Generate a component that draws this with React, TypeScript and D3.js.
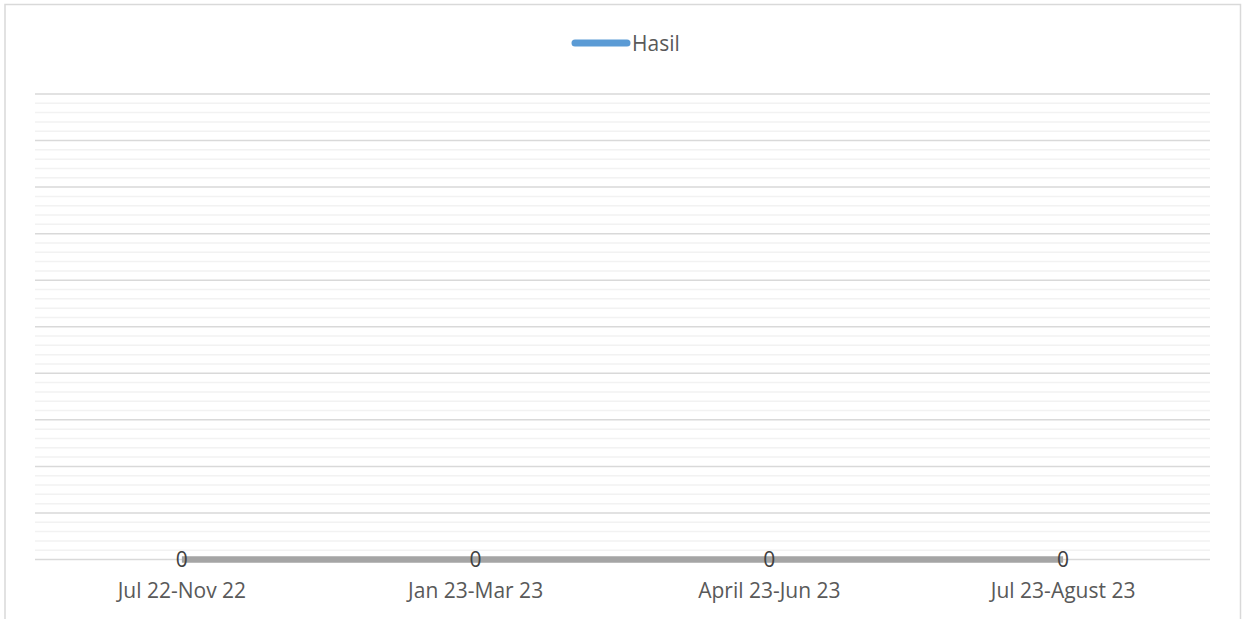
import React from "react";
import * as d3 from "d3";

const categories: string[] = ["Jul 22-Nov 22", "Jan 23-Mar 23", "April 23-Jun 23", "Jul 23-Agust 23"];
const hasilValues: number[] = [0, 0, 0, 0];
const seriesName = "Hasil";
const yMax = 1;
const majorStep = 0.1;
const minorStep = 0.02;

const W = 1246;
const H = 619;
const FONT = "'Open Sans', sans-serif";

export default function App() {
  const left = 35, right = 1210, top = 94, bottom = 559.5;
  const x = d3.scaleBand<string>().domain(categories).range([left, right]).padding(0);
  const y = d3.scaleLinear().domain([0, yMax]).range([bottom, top]);
  const majors = d3.range(0, yMax + 1e-9, majorStep);
  const minors = d3.range(0, yMax + 1e-9, minorStep).filter(
    (v) => Math.abs(v / majorStep - Math.round(v / majorStep)) > 1e-6
  );
  const line = d3
    .line<number>()
    .x((_, i) => (x(categories[i]) as number) + x.bandwidth() / 2)
    .y((d) => y(d));

  return (
    <svg width={W} height={H} style={{ position: "absolute", left: 0, top: 0 }}>
      <rect x={0} y={0} width={W} height={H} fill="#fff" />
      <path d={`M5,${H} V4.5 H1240.5 V${H}`} fill="none" stroke="#d9d9d9" strokeWidth={1.5} />
      {minors.map((v, i) => (
        <line key={"mn" + i} x1={left} x2={right} y1={y(v)} y2={y(v)} stroke="#f2f2f2" strokeWidth={1.5} />
      ))}
      {majors.map((v, i) => (
        <line key={"mj" + i} x1={left} x2={right} y1={y(v)} y2={y(v)} stroke="#d9d9d9" strokeWidth={1.5} />
      ))}
      <path d={line(hasilValues) || ""} fill="none" stroke="#a5a5a5" strokeWidth={6.5} />
      {hasilValues.map((v, i) => (
        <text
          key={"lb" + i}
          x={(x(categories[i]) as number) + x.bandwidth() / 2}
          y={y(v)}
          dy="0.36em"
          textAnchor="middle"
          fontFamily={FONT}
          fontSize={21}
          fill="#404040"
        >
          {v}
        </text>
      ))}
      {categories.map((c, i) => (
        <text
          key={"cat" + i}
          x={(x(c) as number) + x.bandwidth() / 2}
          y={597.5}
          textAnchor="middle"
          fontFamily={FONT}
          fontSize={21}
          fill="#595959"
        >
          {c}
        </text>
      ))}
      <line x1={575} x2={627} y1={43} y2={43} stroke="#5b9bd5" strokeWidth={7} strokeLinecap="round" />
      <text x={632} y={50.5} fontFamily={FONT} fontSize={21} fill="#595959">
        {seriesName}
      </text>
    </svg>
  );
}
